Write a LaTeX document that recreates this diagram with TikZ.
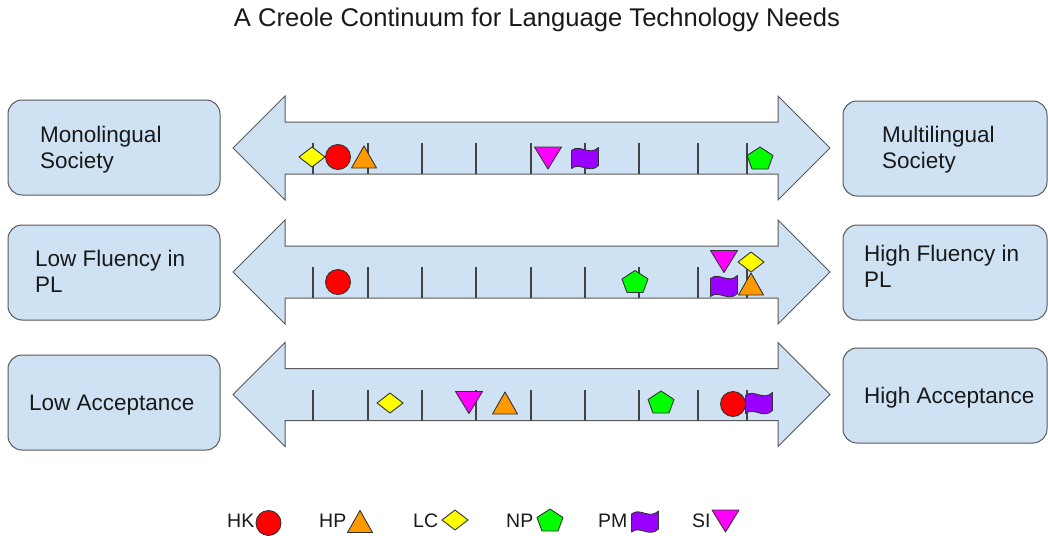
\documentclass[tikz,border=0pt]{standalone}
\usepackage{fontspec}
\setmainfont{Liberation Sans}
\definecolor{boxfill}{HTML}{CFE2F3}
\definecolor{edge}{HTML}{595959}
\definecolor{tickc}{HTML}{434343}
\definecolor{hkc}{HTML}{FF0000}
\definecolor{hpc}{HTML}{FF9900}
\definecolor{lcc}{HTML}{FFFF00}
\definecolor{npc}{HTML}{00FF00}
\definecolor{pmc}{HTML}{9900FF}
\definecolor{sic}{HTML}{FF00FF}
\tikzset{
  txt/.style={font=\fontsize{22.5}{26}\selectfont, text=black!90, inner sep=0pt},
  legtxt/.style={font=\fontsize{19.5}{23}\selectfont, text=black!90, inner sep=0pt},
  titletxt/.style={font=\fontsize{25.6}{30}\selectfont, text=black!90, inner sep=0pt},
  endbox/.style={draw=edge, fill=boxfill, line width=1pt, rounded corners=14pt,
    minimum height=95pt, inner sep=0pt},
  arrowshape/.style={draw=edge, fill=boxfill, line width=1pt, line join=miter},
  ticksty/.style={draw=tickc, line width=1.3pt},
  mk/.style={draw=black!80, line width=0.9pt, line join=round},
  % one marker per group
  hk/.pic={\path[mk, fill=hkc] (0,0) circle[radius=12.5];},
  hp/.pic={\path[mk, fill=hpc] (0,-11) -- (12.5,11) -- (-12.5,11) -- cycle;},
  lc/.pic={\path[mk, fill=lcc] (-13,0) -- (0,-10) -- (13,0) -- (0,10) -- cycle;},
  np/.pic={\path[mk, fill=npc] (0,-11) -- (13,-2.5) -- (8,11) -- (-8,11) -- (-13,-2.5) -- cycle;},
  si/.pic={\path[mk, fill=sic] (-13.5,-11) -- (13.5,-11) -- (0,11) -- cycle;},
  pm/.pic={\path[mk, fill=pmc] (-13.5,-7)
      .. controls (-5,-14) and (4,-1) .. (13.5,-10) -- (13.5,8)
      .. controls (4,17) and (-5,4) .. (-13.5,11) -- cycle;},
}
% double-headed scale arrow with tick marks, centred on height #1
\newcommand\scalearrow[1]{%
  \path[arrowshape] (233,#1) -- (285,#1-52) -- (285,#1-26) -- (778,#1-26)
    -- (778,#1-52) -- (830,#1) -- (778,#1+52) -- (778,#1+26) -- (285,#1+26)
    -- (285,#1+52) -- cycle;
  \foreach \tx in {313,368,422,476,531,585,639,698,747}
    \draw[ticksty] (\tx,#1+26) -- (\tx,#1-5);
}
\begin{document}
\begin{tikzpicture}[x=1pt, y=-1pt]
\useasboundingbox (0,0) rectangle (1048,535);

% title
\node[titletxt, anchor=base] (title) at (537,27) {A Creole Continuum for Language Technology Needs};

% end boxes
\node[endbox, minimum width=212pt] (mono)  at (114,147.5) {};
\node[endbox, minimum width=212pt] (lowfl) at (114,272.5) {};
\node[endbox, minimum width=212pt] (lowac) at (114,402.5) {};
\node[endbox, minimum width=204pt] (multi) at (945,148.5) {};
\node[endbox, minimum width=204pt] (highfl) at (945,272.5) {};
\node[endbox, minimum width=204pt] (highac) at (945,395.5) {};

\node[txt, anchor=base west] (mono1) at (40,142) {Monolingual};
\node[txt, anchor=base west] (mono2) at (40,168) {Society};
\node[txt, anchor=base west] (lowfl1) at (35,266) {Low Fluency in};
\node[txt, anchor=base west] (lowfl2) at (35,292) {PL};
\node[txt, anchor=base west] (lowac1) at (29,410) {Low Acceptance};
\node[txt, anchor=base west] (multi1) at (882,142) {Multilingual};
\node[txt, anchor=base west] (multi2) at (882,168) {Society};
\node[txt, anchor=base west] (highfl1) at (864,261) {High Fluency in};
\node[txt, anchor=base west] (highfl2) at (864,287) {PL};
\node[txt, anchor=base west] (highac1) at (864,403) {High Acceptance};

% scales
\scalearrow{148}
\scalearrow{272}
\scalearrow{394.5}

% society scale
\pic (r1lc) at (312,157) {lc};
\pic (r1hk) at (338,157) {hk};
\pic (r1hp) at (364,157) {hp};
\pic (r1si) at (548,158) {si};
\pic (r1pm) at (585,157.5) {pm};
\pic (r1np) at (760,158) {np};

% fluency scale
\pic (r2hk) at (338,282) {hk};
\pic (r2np) at (635,281.5) {np};
\pic (r2si) at (724,261.5) {si};
\pic (r2pm) at (724,285.5) {pm};
\pic (r2lc) at (751,262) {lc};
\pic (r2hp) at (751,284) {hp};

% acceptance scale
\pic (r3lc) at (390,403) {lc};
\pic (r3si) at (469,402.5) {si};
\pic (r3hp) at (505,403) {hp};
\pic (r3np) at (661,402) {np};
\pic (r3hk) at (733,404) {hk};
\pic (r3pm) at (759,402.5) {pm};

% legend
\node[legtxt, anchor=base west] (lgHK) at (227,527) {HK};
\node[legtxt, anchor=base west] (lgHP) at (319,527) {HP};
\node[legtxt, anchor=base west] (lgLC) at (413,527) {LC};
\node[legtxt, anchor=base west] (lgNP) at (506,527) {NP};
\node[legtxt, anchor=base west] (lgPM) at (598,527) {PM};
\node[legtxt, anchor=base west] (lgSI) at (692,527) {SI};
\pic (lghk) at (268.5,523) {hk};
\pic (lghp) at (360,521.5) {hp};
\pic (lglc) at (455,520) {lc};
\pic (lgnp) at (550,520) {np};
\pic (lgpm) at (645,521) {pm};
\pic (lgsi) at (725.5,521) {si};
\end{tikzpicture}
\end{document}
